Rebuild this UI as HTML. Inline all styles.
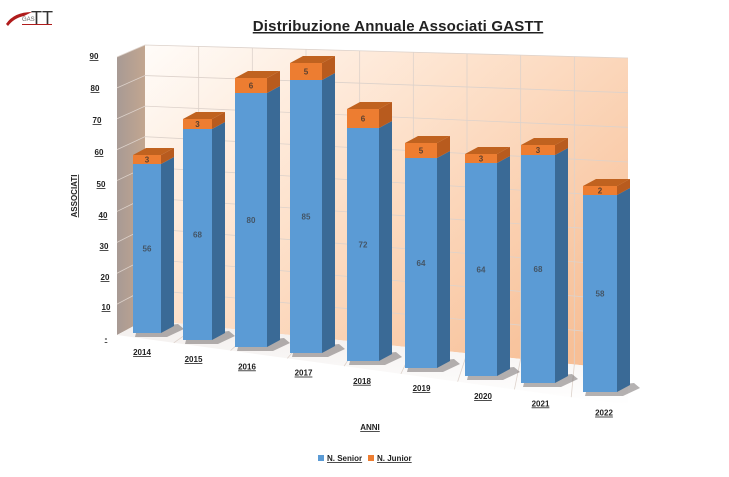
<!DOCTYPE html>
<html><head><meta charset="utf-8"><style>
body{margin:0;background:#fff;width:729px;height:477px;overflow:hidden}
svg{display:block}
text{font-family:"Liberation Sans",sans-serif}
</style></head><body>
<svg id="s" width="729" height="477" viewBox="0 0 729 477" xmlns="http://www.w3.org/2000/svg">
<defs>
<linearGradient id="bw" x1="0" y1="0" x2="1" y2="0.8">
<stop offset="0" stop-color="#fffcf9"/><stop offset="0.45" stop-color="#fde1cb"/><stop offset="1" stop-color="#f7bf96"/>
</linearGradient>
<linearGradient id="lw" x1="0" y1="0" x2="1" y2="0">
<stop offset="0" stop-color="#a89a94"/><stop offset="1" stop-color="#c2a690"/>
</linearGradient>
<linearGradient id="fl" x1="0" y1="0" x2="0" y2="1">
<stop offset="0" stop-color="#f2eeec"/><stop offset="1" stop-color="#ffffff"/>
</linearGradient>
</defs>
<!-- logo -->
<path d="M6 24 Q14 12 32 12 L24 16 Q14 18 8 26Z" fill="#b01c1c"/>
<text x="22" y="21" font-size="6" fill="#666" font-family="Liberation Serif">GAS</text>
<text x="31" y="24" font-size="18" fill="#333" font-family="Liberation Serif">TT</text>
<rect x="22" y="24" width="30" height="1" fill="#b01c1c"/>
<!-- title -->
<text x="398" y="31" font-size="15" font-weight="bold" text-anchor="middle" fill="#222" text-decoration="underline" letter-spacing="0.2">Distribuzione Annuale Associati GASTT</text>
<!-- walls -->
<polygon points="145,45 628,58 628,370 145,320" fill="url(#bw)"/>
<polygon points="117,57 145,45 145,320 117,335" fill="url(#lw)"/>
<polygon points="117,335 145,320 628,370 628,405" fill="url(#fl)"/>
<g id="grid" stroke="#ddd2cb" stroke-width="0.8" fill="none"></g>
<g id="bars"></g>
<text transform="translate(77,196) rotate(-90)" font-size="8" font-weight="bold" text-anchor="middle" text-decoration="underline" fill="#222">ASSOCIATI</text>
<text x="370" y="430" font-size="8" font-weight="bold" text-anchor="middle" text-decoration="underline" fill="#222">ANNI</text>
<rect x="318" y="455" width="6" height="6" fill="#5b9bd5"/>
<text x="327" y="461" font-size="8" font-weight="bold" text-decoration="underline" fill="#222">N. Senior</text>
<rect x="368" y="455" width="6" height="6" fill="#ed7d31"/>
<text x="377" y="461" font-size="8" font-weight="bold" text-decoration="underline" fill="#222">N. Junior</text>
</svg>
<script>
var ns="http://www.w3.org/2000/svg",s=document.getElementById('s'),g=document.getElementById('grid'),b=document.getElementById('bars');
function el(p,t,a,txt){var e=document.createElementNS(ns,t);for(var k in a)e.setAttribute(k,a[k]);if(txt!==undefined)e.textContent=txt;p.appendChild(e);return e;}
for(var i=1;i<=9;i++){var f=i/9;
 var ly=335-(335-57)*f, by=320-(320-45)*f, ry=370-(370-58)*f;
 el(g,'polyline',{points:"117,"+ly+" 145,"+by+" 628,"+ry});
}
var labs=["90","80","70","60","50","40","30","20","10","-"],lx=[88,89,91,93,95,97,98,99,100,102],lyy=[59,91,123,155,187,218,249,280,310,341];
for(i=0;i<10;i++){el(s,'text',{x:lx[i]+(i==9?4:6),y:lyy[i],'font-size':8,'font-weight':'bold','text-anchor':'middle','text-decoration':'underline',fill:'#222'},labs[i]);}
for(i=1;i<=8;i++){var x=145+(628-145)*i/9;var t=45+(58-45)*i/9,bt=320+(370-320)*i/9;el(g,'line',{x1:x,y1:t,x2:x,y2:bt});}
for(i=1;i<=8;i++){var x=145+(628-145)*i/9,bt=320+(370-320)*i/9;var fx=117+(628-117)*i/9,fy=335+(405-335)*i/9;el(g,'line',{x1:x,y1:bt,x2:fx,y2:fy});}
var D=[[133,161,155,164,333,56,3,2014],[183,212,119,129,340,68,3,2015],[235,267,78,93,347,80,6,2016],[290,322,63,80,353,85,5,2017],[347,379,109,128,361,72,6,2018],[405,437,143,158,368,64,5,2019],[465,497,154,163,376,64,3,2020],[521,555,145,155,383,68,3,2021],[583,617,186,195,392,58,2,2022]];
var dx=13,dy=-7;
D.forEach(function(d,k){var x0=d[0],x1=d[1],t=d[2],o=d[3],bo=d[4];
 el(b,'polygon',{points:(x0+4)+","+(bo-4)+" "+(x1+dx+4)+","+(bo+dy-2)+" "+(x1+dx+10)+","+(bo+dy+3)+" "+(x1+6)+","+(bo+4)+" "+(x0+2)+","+(bo+4),fill:'#5a5454',opacity:0.45});
 el(b,'rect',{x:x0,y:o,width:x1-x0,height:bo-o,fill:'#5b9bd5'});
 el(b,'rect',{x:x0,y:t,width:x1-x0,height:o-t,fill:'#ed7d31'});
 el(b,'polygon',{points:x1+","+o+" "+(x1+dx)+","+(o+dy)+" "+(x1+dx)+","+(bo+dy)+" "+x1+","+bo,fill:'#3a6a96'});
 el(b,'polygon',{points:x1+","+t+" "+(x1+dx)+","+(t+dy)+" "+(x1+dx)+","+(o+dy)+" "+x1+","+o,fill:'#b85b1e'});
 el(b,'polygon',{points:x0+","+t+" "+(x0+dx)+","+(t+dy)+" "+(x1+dx)+","+(t+dy)+" "+x1+","+t,fill:'#c0621f'});
 var cx=(x0+x1)/2;
 el(b,'text',{x:cx,y:(o+bo)/2+3,'font-size':8,'font-weight':'bold','text-anchor':'middle',fill:'#445566'},d[5]);
 el(b,'text',{x:cx,y:(t+o)/2+3,'font-size':8,'font-weight':'bold','text-anchor':'middle',fill:'#5a4030'},d[6]);
 el(b,'text',{x:x0+9+k*1.5,y:bo+22+k*0.2,'font-size':8,'font-weight':'bold','text-anchor':'middle','text-decoration':'underline',fill:'#222'},d[7]);
});
</script>
</body></html>
